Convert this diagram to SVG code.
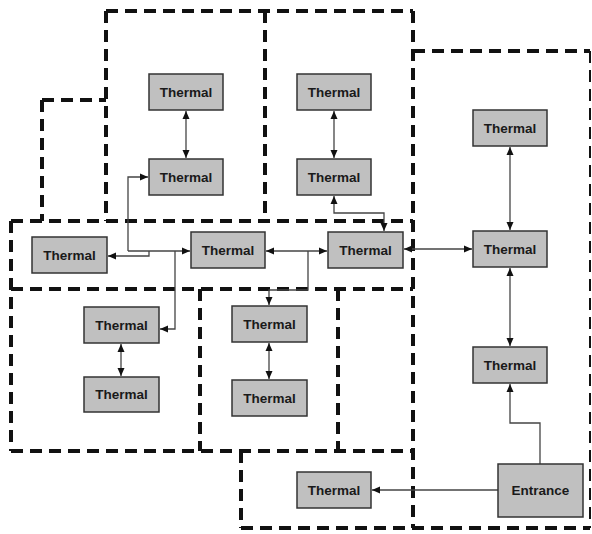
<svg xmlns="http://www.w3.org/2000/svg" width="592" height="534" viewBox="0 0 592 534">
<style>
.zone{fill:none;stroke:#111;stroke-width:4;stroke-dasharray:12 7}
.thin{stroke-width:2}
.node rect{fill:#c0c0c0;stroke:#333;stroke-width:1.5}
.node text{font-family:"Liberation Sans",Arial,sans-serif;font-weight:bold;font-size:13.5px;fill:#1a1a1a;text-anchor:middle;dominant-baseline:central}
.c{fill:none;stroke:#444;stroke-width:1.3}
.s{marker-end:url(#ah)}
.b{marker-start:url(#ahs);marker-end:url(#ah)}
</style>
<defs>
<marker id="ah" markerUnits="userSpaceOnUse" markerWidth="9" markerHeight="8" refX="8" refY="4" orient="auto"><path d="M0,0.5 L8,4 L0,7.5 Z" fill="#111"/></marker>
<marker id="ahs" markerUnits="userSpaceOnUse" markerWidth="9" markerHeight="8" refX="0" refY="4" orient="auto"><path d="M8,0.5 L0,4 L8,7.5 Z" fill="#111"/></marker>
</defs>
<g id="zones">
<line class="zone" x1="106" y1="11" x2="413" y2="11"/>
<line class="zone" x1="42" y1="100" x2="106" y2="100"/>
<line class="zone" x1="413" y1="51" x2="590" y2="51"/>
<line class="zone" x1="11" y1="221" x2="413" y2="221"/>
<line class="zone" x1="11" y1="289" x2="413" y2="289"/>
<line class="zone" x1="11" y1="451" x2="413" y2="451"/>
<line class="zone" x1="241" y1="528" x2="590" y2="528"/>
<line class="zone" x1="106" y1="11" x2="106" y2="221"/>
<line class="zone" x1="42" y1="100" x2="42" y2="221"/>
<line class="zone" x1="265" y1="11" x2="265" y2="221"/>
<line class="zone" x1="413" y1="11" x2="413" y2="528"/>
<line class="zone thin" x1="590" y1="51" x2="590" y2="528"/>
<line class="zone" x1="11" y1="221" x2="11" y2="451"/>
<line class="zone" x1="200" y1="289" x2="200" y2="451"/>
<line class="zone" x1="338" y1="289" x2="338" y2="451"/>
<line class="zone" x1="241" y1="451" x2="241" y2="528"/>
</g>
<g id="connectors">
<line class="c b" x1="186" y1="111" x2="186" y2="158"/>
<line class="c b" x1="334" y1="111" x2="334" y2="158"/>
<line class="c b" x1="510" y1="147" x2="510" y2="230"/>
<line class="c b" x1="510" y1="268" x2="510" y2="346"/>
<line class="c b" x1="121" y1="344" x2="121" y2="376"/>
<line class="c b" x1="269" y1="343" x2="269" y2="379"/>
<polyline class="c s" points="540,464 540,423 510,423 510,384"/>
<line class="c s" x1="498" y1="490" x2="372" y2="490"/>
<line class="c b" x1="404" y1="249" x2="472" y2="249"/>
<line class="c b" x1="266" y1="251" x2="327" y2="251"/>
<polyline class="c s" points="308,251 308,290 269,290 269,305"/>
<polyline class="c b" points="334,196 334,213 384,213 384,231"/>
<polyline class="c s" points="128,251 128,177 148,177"/>
<line class="c s" x1="128" y1="251" x2="190" y2="251"/>
<polyline class="c s" points="149,251 149,256 108,256"/>
<polyline class="c s" points="175,251 175,329 160,329"/>
</g>
<g id="n1" class="node"><rect x="149" y="74" width="74" height="36"/><text x="186" y="92">Thermal</text></g>
<g id="n2" class="node"><rect x="149" y="159" width="74" height="36"/><text x="186" y="177">Thermal</text></g>
<g id="n3" class="node"><rect x="297" y="74" width="74" height="36"/><text x="334" y="92">Thermal</text></g>
<g id="n4" class="node"><rect x="297" y="159" width="74" height="36"/><text x="334" y="177">Thermal</text></g>
<g id="n5" class="node"><rect x="473" y="110" width="74" height="36"/><text x="510" y="128">Thermal</text></g>
<g id="n6" class="node"><rect x="473" y="231" width="74" height="36"/><text x="510" y="249">Thermal</text></g>
<g id="n7" class="node"><rect x="328" y="232" width="75" height="36"/><text x="365.5" y="250">Thermal</text></g>
<g id="n8" class="node"><rect x="191" y="232" width="74" height="36"/><text x="228" y="250">Thermal</text></g>
<g id="n9" class="node"><rect x="32" y="237" width="75" height="36"/><text x="69.5" y="255">Thermal</text></g>
<g id="n10" class="node"><rect x="84" y="307" width="75" height="36"/><text x="121.5" y="325">Thermal</text></g>
<g id="n11" class="node"><rect x="84" y="377" width="75" height="35"/><text x="121.5" y="394.5">Thermal</text></g>
<g id="n12" class="node"><rect x="232" y="306" width="75" height="36"/><text x="269.5" y="324">Thermal</text></g>
<g id="n13" class="node"><rect x="232" y="380" width="75" height="36"/><text x="269.5" y="398">Thermal</text></g>
<g id="n14" class="node"><rect x="473" y="347" width="74" height="36"/><text x="510" y="365">Thermal</text></g>
<g id="n15" class="node"><rect x="297" y="472" width="74" height="36"/><text x="334" y="490">Thermal</text></g>
<g id="entrance" class="node"><rect x="498" y="464" width="85" height="53"/><text x="540.5" y="490.5">Entrance</text></g>
</svg>
